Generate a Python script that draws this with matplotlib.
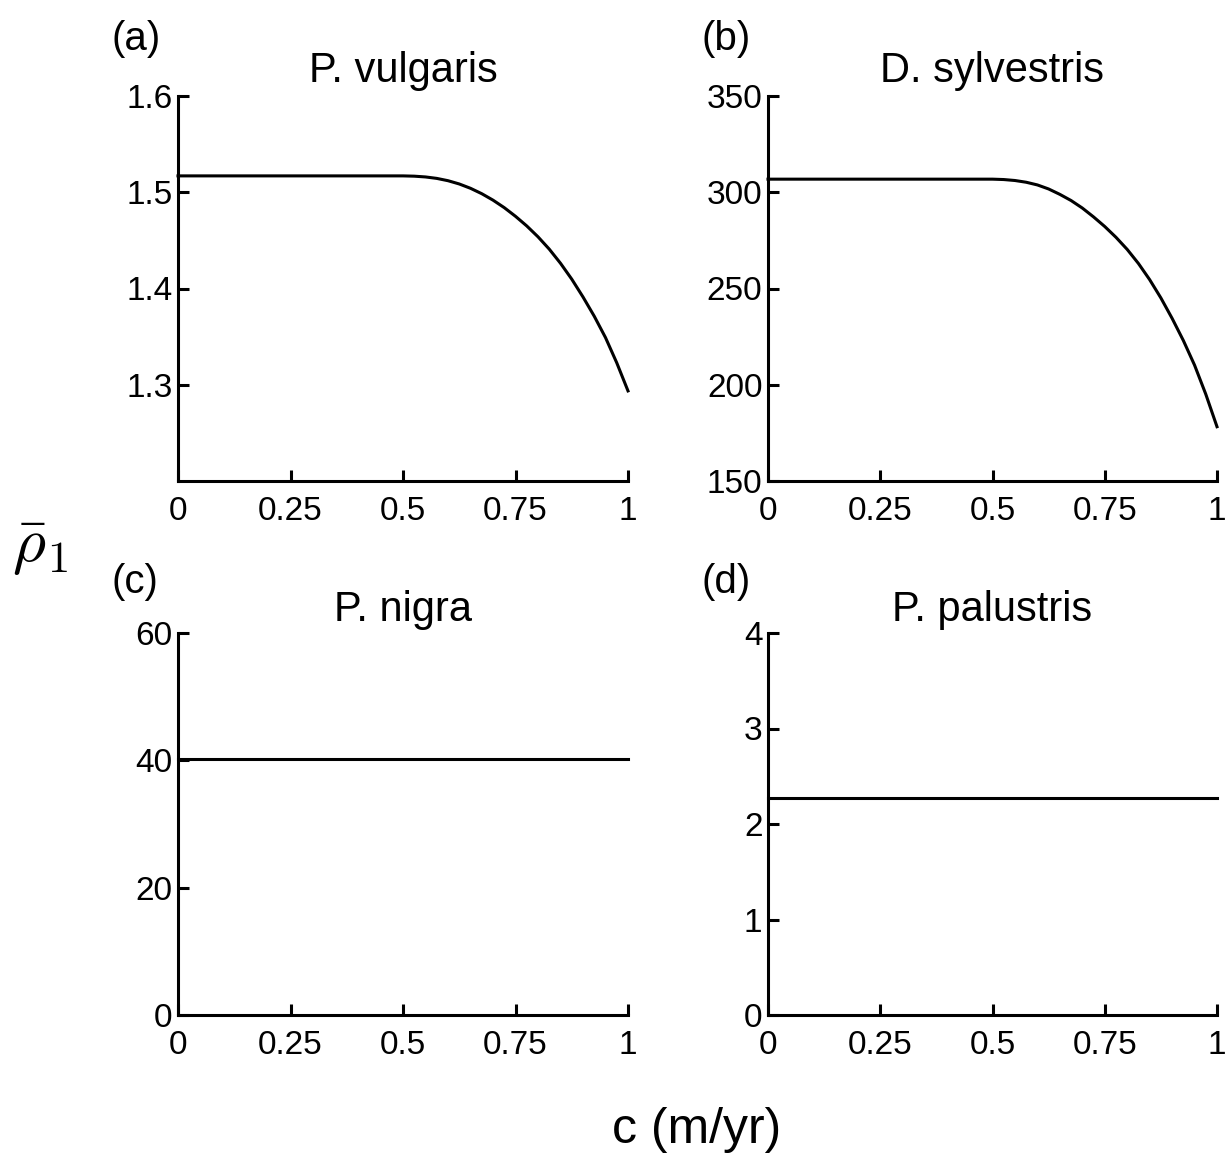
import matplotlib
matplotlib.use("Agg")
import matplotlib.pyplot as plt

plt.rcParams['font.family'] = ['Liberation Sans', 'DejaVu Sans']
plt.rcParams['mathtext.fontset'] = 'cm'

# ---- data ----
titles = ["P. vulgaris", "D. sylvestris", "P. nigra", "P. palustris"]
panel_labels = ["(a)", "(b)", "(c)", "(d)"]

c_a = [0.0, 0.5, 0.525, 0.55, 0.575, 0.6, 0.625, 0.65, 0.675, 0.7, 0.725, 0.75,
       0.775, 0.8, 0.825, 0.85, 0.875, 0.9, 0.925, 0.95, 0.975, 1.0]
rho_a = [1.5170, 1.5170, 1.5167, 1.5159, 1.5144, 1.5120, 1.5086, 1.5041, 1.4985, 1.4918,
         1.4840, 1.4750, 1.4650, 1.4537, 1.4409, 1.4262, 1.4097, 1.3912, 1.3712, 1.3490,
         1.3228, 1.2936]

c_b = [0.0, 0.5, 0.525, 0.55, 0.575, 0.6, 0.625, 0.65, 0.675, 0.7, 0.725, 0.75,
       0.775, 0.8, 0.825, 0.85, 0.875, 0.9, 0.925, 0.95, 0.975, 1.0]
rho_b = [306.8, 306.8, 306.6, 306.1, 305.2, 303.8, 301.7, 298.9, 295.7, 291.8,
         287.2, 282.2, 276.6, 270.3, 263.0, 254.6, 245.1, 234.5, 223.0, 210.2,
         195.1, 178.2]

c_c = [0.0, 1.0]
rho_c = [40.2, 40.2]

c_d = [0.0, 1.0]
rho_d = [2.27, 2.27]

xticks = [0, 0.25, 0.5, 0.75, 1]
xticklabels = ["0", "0.25", "0.5", "0.75", "1"]
yticks_a = [1.3, 1.4, 1.5, 1.6]
yticklabels_a = ["1.3", "1.4", "1.5", "1.6"]
yticks_b = [150, 200, 250, 300, 350]
yticklabels_b = ["150", "200", "250", "300", "350"]
yticks_c = [0, 20, 40, 60]
yticklabels_c = ["0", "20", "40", "60"]
yticks_d = [0, 1, 2, 3, 4]
yticklabels_d = ["0", "1", "2", "3", "4"]
ylims = [(1.2, 1.6), (150, 350), (0, 60), (0, 4)]

W, H = 1225, 1154
fig = plt.figure(figsize=(W / 100, H / 100), dpi=100)

def frac(l, t, r, b):
    return [l / W, 1 - b / H, (r - l) / W, (b - t) / H]

rects = [frac(178, 96, 628, 481), frac(768, 96, 1217, 481),
         frac(178, 633, 628, 1015), frac(768, 633, 1217, 1015)]
series = [(c_a, rho_a), (c_b, rho_b), (c_c, rho_c), (c_d, rho_d)]
yt = [(yticks_a, yticklabels_a), (yticks_b, yticklabels_b),
      (yticks_c, yticklabels_c), (yticks_d, yticklabels_d)]
title_gap = [14, 14, 12, 12]
label_gap = [46, 46, 40, 40]

for i in range(4):
    ax = fig.add_axes(rects[i])
    x, y = series[i]
    ax.plot(x, y, color='black', lw=2.2, solid_joinstyle='round', clip_on=False)
    ax.set_xlim(0, 1)
    ax.set_ylim(*ylims[i])
    ax.set_xticks(xticks)
    ax.set_xticklabels(xticklabels)
    ax.set_yticks(yt[i][0])
    ax.set_yticklabels(yt[i][1])
    for s in ['top', 'right']:
        ax.spines[s].set_visible(False)
    for s in ['left', 'bottom']:
        ax.spines[s].set_linewidth(2.2)
    ax.tick_params(direction='in', length=8, width=2.2, labelsize=24)
    ax.tick_params(axis='x', pad=11)
    ax.tick_params(axis='y', pad=4)
    l, b, w, h = rects[i]
    fig.text(l + w / 2, b + h + title_gap[i] / H, titles[i], ha='center', va='baseline', fontsize=30)
    fig.text(l - 66 / W, b + h + label_gap[i] / H, panel_labels[i], ha='left', va='baseline', fontsize=29)

fig.text(697 / W, 1 - 1143 / H, "c (m/yr)", ha='center', va='baseline', fontsize=36)
fig.text(40 / W, 1 - 548 / H, r'$\bar{\rho}_1$', ha='center', va='center', fontsize=46)

fig.savefig("out.png", dpi=100)
